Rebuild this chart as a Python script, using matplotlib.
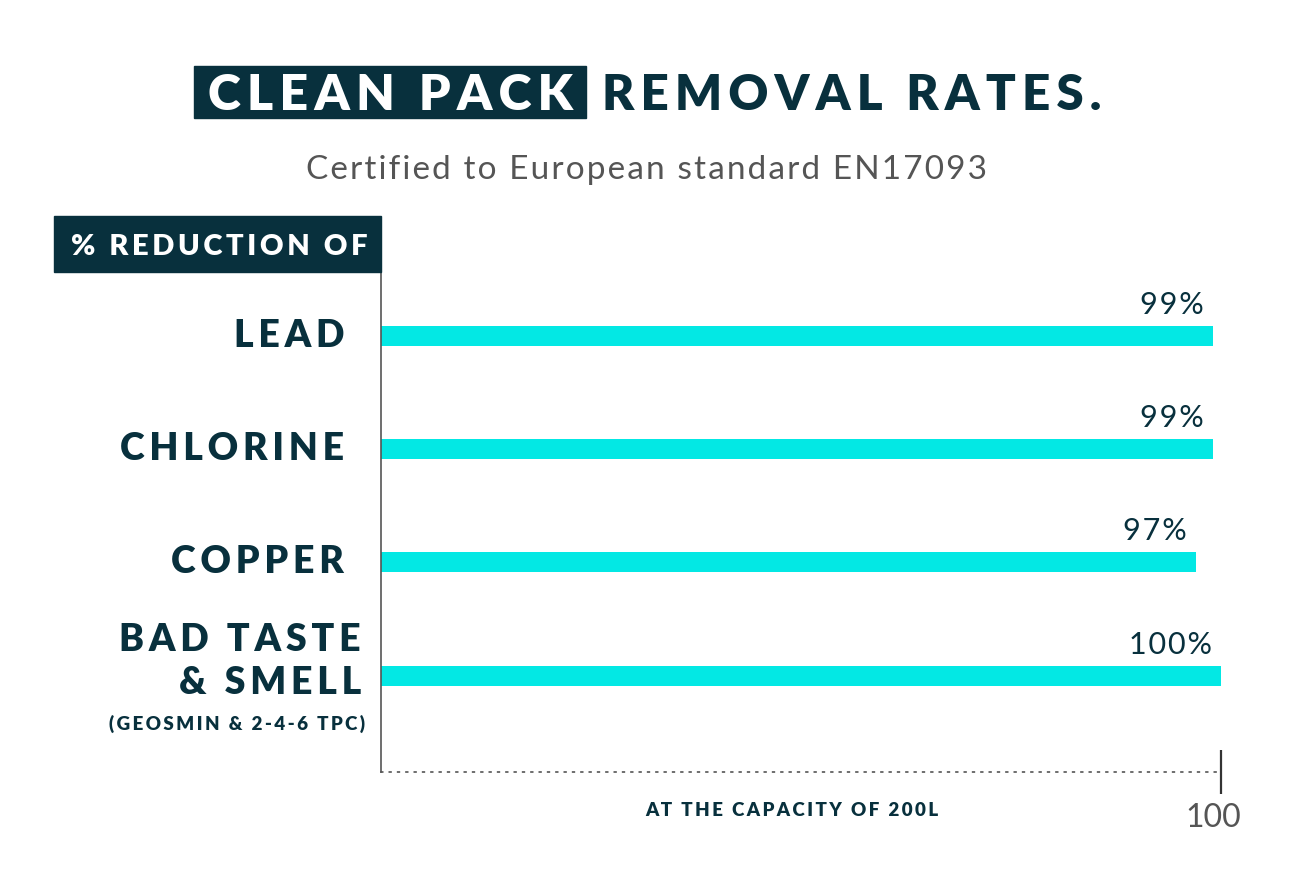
import matplotlib.pyplot as plt
from matplotlib.patches import Rectangle
from matplotlib.transforms import ScaledTranslation

# chart data
categories = ["LEAD", "CHLORINE", "COPPER", "BAD TASTE\n& SMELL"]
values = [99, 99, 97, 100]
value_labels = ["99%", "99%", "97%", "100%"]
note = "(GEOSMIN & 2-4-6 TPC)"
x_ticks = [100]

DARK = '#08303d'
CYAN = '#03e8e4'
GREY = '#555555'
W, H = 1305, 874
FAM = ['Lato', 'DejaVu Sans']
THIN = '\u2009'
HAIR = '\u200a'


def fx(x):
    return x / W


def fy(y):
    return 1 - y / H


def track(s, sep):
    # fake letter spacing by putting narrow spaces between the letters
    return '\n'.join(sep.join(line) for line in s.split('\n'))


fig = plt.figure(figsize=(W / 100, H / 100), dpi=100)
fig.patch.set_facecolor('white')

# axes area in pixels: x 381..1221, y 270..772
ax = fig.add_axes([fx(381), fy(772), fx(1221) - fx(381), fy(270) - fy(772)])
pos = list(range(len(categories)))
bar_h = 0.176
ax.barh(pos, values, height=bar_h, color=CYAN)
ax.set_xlim(0, 100)
ax.set_ylim(3.85, -0.58)

for s in ['top', 'right']:
    ax.spines[s].set_visible(False)
ax.spines['left'].set_color(GREY)
ax.spines['left'].set_linewidth(1.2)
ax.spines['bottom'].set_color(GREY)
ax.spines['bottom'].set_linewidth(1.2)
ax.spines['bottom'].set_linestyle((0, (1, 4)))
ax.set_yticks([])
ax.set_xticks(x_ticks)
ax.set_xticklabels([str(t) for t in x_ticks], fontfamily=FAM)
ax.tick_params(axis='x', direction='inout', length=31, width=1.6, color='#333333',
               labelsize=23, labelcolor=GREY, pad=7)
for lab in ax.get_xticklabels():
    lab.set_transform(lab.get_transform() + ScaledTranslation(-0.08, 0, fig.dpi_scale_trans))

# category labels
for i, name in enumerate(categories):
    if '\n' in name:
        ax.annotate(track(name, THIN), xy=(0, i), xytext=(-20, 14), textcoords='offset pixels',
                    ha='right', va='center', fontsize=27, fontweight='heavy',
                    fontfamily=FAM, color=DARK, linespacing=1.3)
        ax.annotate(track(note, THIN), xy=(0, i), xytext=(-16, -48), textcoords='offset pixels',
                    ha='right', va='center', fontsize=13.5, fontweight='heavy',
                    fontfamily=FAM, color=DARK)
    else:
        ax.annotate(track(name, THIN), xy=(0, i), xytext=(-37, 0), textcoords='offset pixels',
                    ha='right', va='center', fontsize=27, fontweight='heavy',
                    fontfamily=FAM, color=DARK)

# value labels above bars
for i, (v, lab) in enumerate(zip(values, value_labels)):
    ax.annotate(track(lab, HAIR), xy=(v, i - bar_h / 2), xytext=(-9, 12),
                textcoords='offset pixels', ha='right', va='baseline', fontsize=22,
                fontfamily=FAM, color=DARK)

# title
fig.patches.append(Rectangle((fx(194), fy(118)), fx(586) - fx(194), fy(66) - fy(118),
                             transform=fig.transFigure, color=DARK, zorder=0))
fig.text(fx(390), fy(110), track("CLEAN PACK", THIN), ha='center', va='baseline',
         fontsize=36, fontweight='heavy', fontfamily=FAM, color='white')
fig.text(fx(602), fy(110), track("REMOVAL RATES.", THIN), ha='left', va='baseline',
         fontsize=35.5, fontweight='heavy', fontfamily=FAM, color=DARK)
fig.text(fx(647), fy(179), track("Certified to European standard EN17093", HAIR),
         ha='center', va='baseline', fontsize=24, fontfamily=FAM, color=GREY)

# header box
fig.patches.append(Rectangle((fx(54), fy(272)), fx(381) - fx(54), fy(216) - fy(272),
                             transform=fig.transFigure, color=DARK, zorder=0))
fig.text(fx(219), fy(255), track("% REDUCTION OF", THIN), ha='center', va='baseline',
         fontsize=21, fontweight='heavy', fontfamily=FAM, color='white')

fig.text(fx(792), fy(816), track("AT THE CAPACITY OF 200L", THIN), ha='center',
         va='baseline', fontsize=13.5, fontweight='heavy', fontfamily=FAM, color=DARK)

fig.savefig('out.png', dpi=100, facecolor='white')
